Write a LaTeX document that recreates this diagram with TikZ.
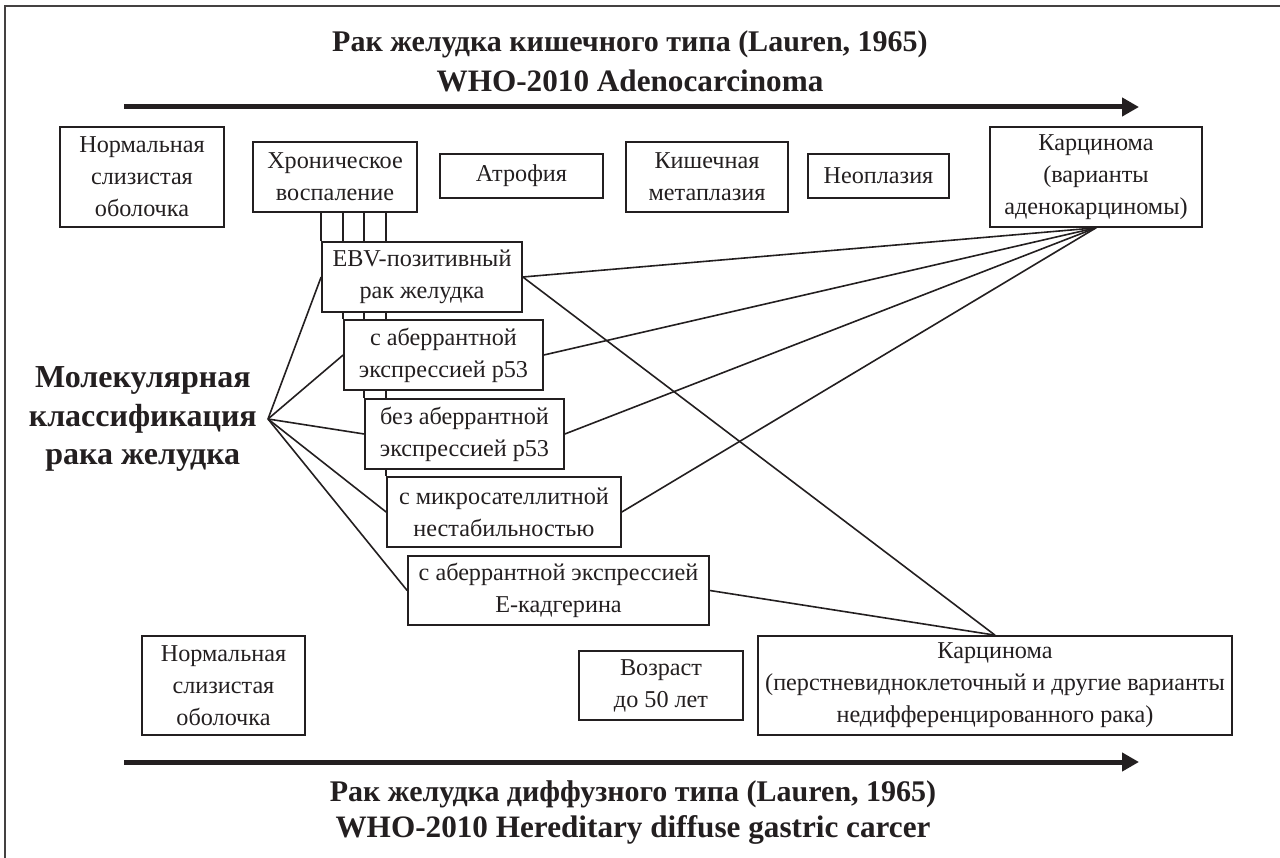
\documentclass[tikz,border=0pt]{standalone}
\usepackage{fontspec}
\setmainfont{Liberation Serif}
\usetikzlibrary{arrows.meta,backgrounds}
\definecolor{ink}{RGB}{35,31,32}
\newcommand{\latinline}{\fontsize{31.2}{40}\selectfont}
\begin{document}
\begin{tikzpicture}[x=1pt,y=-1pt,
  box/.style={draw=ink, line width=1.7pt, fill=white, align=center, inner sep=0pt, text=ink, font=\fontsize{24.2}{32}\selectfont},
  conn/.style={draw=ink, line width=1.6pt},
  bigarrow/.style={draw=ink, line width=5pt, -{Triangle[length=17pt,width=18pt]}},
  ttl/.style={font=\bfseries\fontsize{30}{40}\selectfont, align=center, text=ink, inner sep=0pt},
  frame/.style={draw=ink!85, line width=2.5pt}]
\useasboundingbox (0,0) rectangle (1280,858);
% frame
\coordinate (fA) at (5,858);
\coordinate (fB) at (5,6);
\coordinate (fC) at (1280,6);
\draw[frame] (fA) -- (fB) -- (fC);
% titles
\node[ttl] (t1) at (630,61) {Рак желудка кишечного типа (Lauren, 1965)\\{\latinline WHO-2010 Adenocarcinoma}};
\node[ttl, font=\bfseries\fontsize{30}{36}\selectfont] (t2) at (633,813) {Рак желудка диффузного типа (Lauren, 1965)\\{\latinline WHO-2010 Hereditary diffuse gastric carcer}};
% arrows
\coordinate (a1s) at (124,107);
\coordinate (a1e) at (1139,107);
\coordinate (a2s) at (124,762);
\coordinate (a2e) at (1139,762);
\draw[bigarrow] (a1s) -- (a1e);
\draw[bigarrow] (a2s) -- (a2e);
% top row
\node[box, minimum width=164pt, minimum height=100pt] (n1) at (142,177) {Нормальная\\слизистая\\оболочка};
\node[box, minimum width=164pt, minimum height=70pt] (chr) at (335,177) {Хроническое\\воспаление};
\node[box, minimum width=163pt, minimum height=44pt] (atr) at (521.5,176) {Атрофия};
\node[box, minimum width=162pt, minimum height=70pt] (kish) at (707,177) {Кишечная\\метаплазия};
\node[box, minimum width=141pt, minimum height=44pt] (neo) at (878.5,176) {Неоплазия};
\node[box, minimum width=212pt, minimum height=100pt] (carc) at (1096,177) {Карцинома\\(варианты\\аденокарциномы)};
% molecular boxes
\node[box, minimum width=200pt, minimum height=70pt] (ebv) at (422,277) {EBV-позитивный\\рак желудка};
\node[box, minimum width=199pt, minimum height=70pt] (pa) at (443.5,355) {с аберрантной\\экспрессией p53};
\node[box, minimum width=199pt, minimum height=70pt] (pb) at (464.5,434) {без аберрантной\\экспрессией p53};
\node[box, minimum width=234pt, minimum height=70pt] (msi) at (504,512) {с микросателлитной\\нестабильностью};
\node[box, minimum width=301pt, minimum height=69pt] (ecad) at (558.5,590.5) {с аберрантной экспрессией\\Е-кадгерина};
% label
\node[anchor=east, inner xsep=11pt, inner ysep=0pt, align=center, text=ink, font=\bfseries\fontsize{32}{38.5}\selectfont] (mol) at (268,419) {Молекулярная\\классификация\\рака желудка};
% bottom row
\node[box, minimum width=163pt, minimum height=99pt] (n2) at (223.5,685.5) {Нормальная\\слизистая\\оболочка};
\node[box, minimum width=164pt, minimum height=69pt] (age) at (661,685.5) {Возраст\\до 50 лет};
\node[box, minimum width=474pt, minimum height=99pt] (carc2) at (995,685.5) {Карцинома\\(перстневидноклеточный и другие варианты\\недифференцированного рака)};
% connectors
\begin{pgfonlayer}{background}
\draw[conn] (ebv.north west) -- (ebv.north west |- chr.south);
\draw[conn] (pa.north west) -- (pa.north west |- chr.south);
\draw[conn] (pb.north west) -- (pb.north west |- chr.south);
\draw[conn] (msi.north west) -- (msi.north west |- chr.south);
\draw[conn] (mol.east) -- (ebv.west);
\draw[conn] (mol.east) -- (pa.west);
\draw[conn] (mol.east) -- (pb.west);
\draw[conn] (mol.east) -- (msi.west);
\draw[conn] (mol.east) -- (ecad.west);
\draw[conn] (carc.south) -- (ebv.east);
\draw[conn] (carc.south) -- (pa.east);
\draw[conn] (carc.south) -- (pb.east);
\draw[conn] (carc.south) -- (msi.east);
\draw[conn] (carc2.north) -- (ebv.east);
\draw[conn] (carc2.north) -- (ecad.east);
\end{pgfonlayer}
\end{tikzpicture}
\end{document}
